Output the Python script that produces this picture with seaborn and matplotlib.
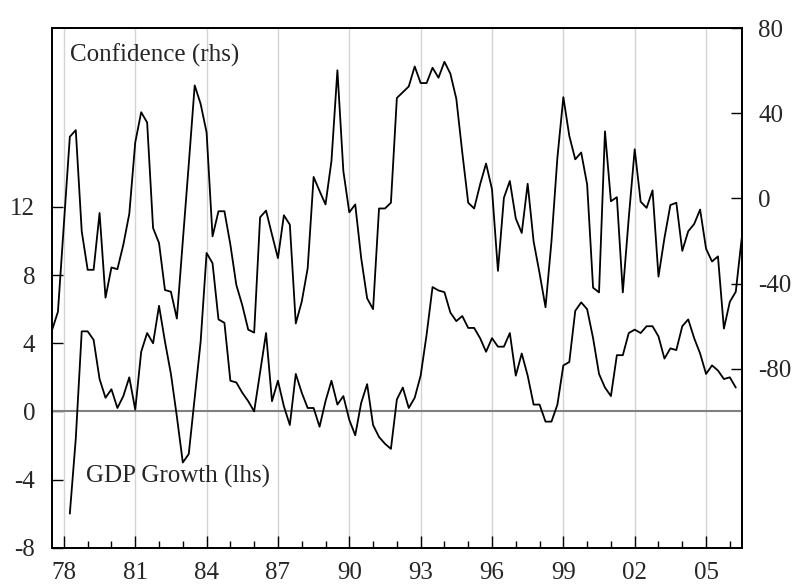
import matplotlib
matplotlib.use("Agg")
import matplotlib.pyplot as plt
from matplotlib.ticker import MultipleLocator
import numpy as np
import pandas as pd
import seaborn as sns

# ---- data (quarterly) -----------------------------------------------------
gdp_start = 1978.25          # first quarter of GDP series (1978 Q2)
gdp_growth = [
    -6.0, -1.6, 4.7,
    4.7, 4.2, 1.9, 0.8,
    1.3, 0.2, 0.9, 2.0,
    0.1, 3.5, 4.6, 4.0,
    6.2, 4.1, 2.2, -0.3,
    -3.0, -2.5, 0.8, 4.1,
    9.3, 8.7, 5.4, 5.2,
    1.8, 1.7, 1.1, 0.6,
    0.0, 2.3, 4.6, 0.6,
    1.8, 0.3, -0.8, 2.2,
    1.1, 0.2, 0.2, -0.9,
    0.6, 1.8, 0.4, 0.9,
    -0.5, -1.4, 0.5, 1.6,
    -0.8, -1.5, -1.9, -2.2,
    0.7, 1.4, 0.2, 0.8,
    2.1, 4.5, 7.3, 7.1,
    7.0, 5.8, 5.3, 5.6,
    4.9, 4.9, 4.3, 3.5,
    4.3, 3.8, 3.8, 4.6,
    2.1, 3.4, 2.1, 0.4,
    0.4, -0.6, -0.6, 0.4,
    2.7, 2.9, 5.9, 6.4,
    6.0, 4.3, 2.2, 1.4,
    0.9, 3.3, 3.3, 4.6,
    4.8, 4.6, 5.0, 5.0,
    4.4, 3.1, 3.7, 3.6,
    5.0, 5.4, 4.3, 3.4,
    2.2, 2.7, 2.4, 1.9,
    2.0, 1.4,
]

conf_start = 1977.5          # first quarter of confidence series (1977 Q3)
confidence = [
    -61.9, -53.2,
    -12.0, 29.0, 32.1, -15.4,
    -33.5, -33.5, -6.8, -46.6,
    -32.4, -33.2, -21.7, -7.2,
    26.3, 40.5, 35.7, -13.9,
    -20.9, -43.0, -43.8, -56.4,
    -20.0, 16.0, 53.1, 44.4,
    31.0, -17.8, -6.0, -6.0,
    -21.7, -40.6, -50.1, -61.6,
    -63.0, -8.8, -5.7, -17.0,
    -28.0, -7.9, -12.3, -58.7,
    -48.5, -32.8, 10.1, 3.5,
    -2.8, 17.6, 60.2, 12.9,
    -6.5, -2.8, -28.0, -46.9,
    -52.0, -4.7, -4.7, -2.0,
    47.2, 49.9, 52.6, 62.0,
    54.2, 54.2, 61.4, 56.7,
    64.2, 58.6, 46.8, 21.6,
    -2.0, -4.7, 6.6, 16.4,
    4.3, -34.0, 0.3, 8.2,
    -9.4, -16.2, 6.9, -20.2,
    -35.1, -51.1, -20.2, 19.2,
    47.6, 29.4, 18.4, 21.6,
    6.6, -41.9, -44.1, 31.5,
    -1.3, 0.6, -44.1, -9.1,
    23.1, -1.5, -4.4, 3.8,
    -36.7, -18.6, -3.1, -2.0,
    -24.6, -15.4, -12.0, -5.2,
    -23.6, -29.6, -27.2, -61.1,
    -48.5, -43.8, -18.6,
]

year_ticks = [1978, 1981, 1984, 1987, 1990, 1993, 1996, 1999, 2002, 2005]
year_labels = ["78", "81", "84", "87", "90", "93", "96", "99", "02", "05"]
lhs_ticks = [-8, -4, 0, 4, 8, 12]
rhs_ticks = [-80, -40, 0, 40, 80]

gdp = pd.DataFrame({"t": gdp_start + np.arange(len(gdp_growth)) / 4, "v": gdp_growth})
conf = pd.DataFrame({"t": conf_start + np.arange(len(confidence)) / 4, "v": confidence})

# ---- style -----------------------------------------------------------------
sns.set_theme(style="white")
plt.rcParams["font.family"] = ["Liberation Serif", "DejaVu Serif"]
plt.rcParams["axes.unicode_minus"] = False
FS = 18

fig = plt.figure(figsize=(7.95, 5.86), dpi=100)
ax = fig.add_axes([0.0654, 0.0654, 0.8676, 0.8866])
ax2 = ax.twinx()

ax.axhline(0, color="#808080", lw=1.5, zorder=1)
sns.lineplot(data=gdp, x="t", y="v", ax=ax, color="black", lw=1.3, zorder=3)
sns.lineplot(data=conf, x="t", y="v", ax=ax2, color="black", lw=1.3, zorder=3)

ax.set_xlim(1977.5, 2006.5)
ax.set_ylim(-8, 22.5)
ax2.set_ylim(-164, 80)

ax.set_xticks(year_ticks)
ax.set_xticklabels(year_labels)
ax.xaxis.set_minor_locator(MultipleLocator(1))
ax.set_yticks(lhs_ticks)
ax2.set_yticks(rhs_ticks)

ax.xaxis.grid(True, color="#d4d4d4", lw=1)
ax.yaxis.grid(False)
ax2.grid(False)
ax.set_axisbelow(True)

ax.tick_params(axis="x", which="major", direction="in", length=9, width=1,
               color="black", pad=10, labelsize=FS, bottom=True)
ax.tick_params(axis="x", which="minor", direction="in", length=5, width=1,
               color="black", bottom=True)
ax.tick_params(axis="y", direction="in", length=8, width=1, color="black",
               pad=12, labelsize=FS, left=True)
ax2.tick_params(axis="y", direction="in", length=8, width=1, color="black",
                pad=12, labelsize=FS, right=True)

for a in (ax, ax2):
    a.set_xlabel("")
    a.set_ylabel("")
    for s in a.spines.values():
        s.set_color("black")
        s.set_linewidth(1.3)

ax.text(0.026, 0.948, "Confidence (rhs)", transform=ax.transAxes,
        fontsize=FS, ha="left", va="center")
ax.text(0.050, 0.137, "GDP Growth (lhs)", transform=ax.transAxes,
        fontsize=FS, ha="left", va="center")

fig.savefig("out.png", dpi=100)
